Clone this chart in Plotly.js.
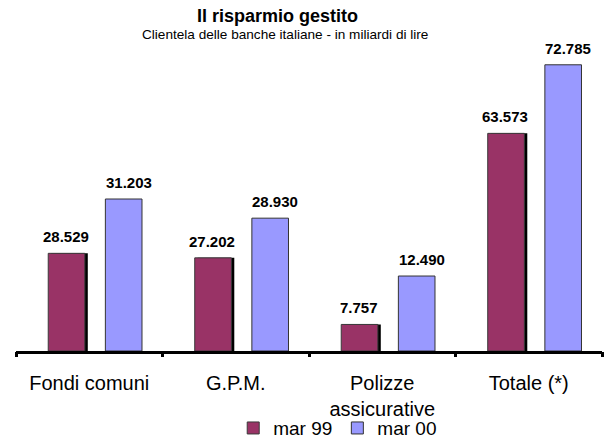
<!DOCTYPE html>
<html>
<head>
<meta charset="utf-8">
<script src="https://cdn.plot.ly/plotly-3.0.1.min.js"></script>
<style>html,body{margin:0;padding:0;background:#fff;}#chart{width:605px;height:444px;}</style>
</head>
<body>
<div id="chart"></div>
<script>
// ---- data (miliardi di lire) ----
const categories = ['Fondi comuni', 'G.P.M.', 'Polizze<br>assicurative', 'Totale (*)'];
const seriesNames = ['mar 99', 'mar 00'];
const mar99 = [28529, 27202, 7757, 63573];
// values printed above the mar 00 bars
const mar00 = [31203, 28930, 12490, 72785];
// heights of the mar 00 bars as drawn in the reference (they do not follow the printed values)
const mar00BarHeight = [44400, 38800, 21900, 83600];

const titleText = 'Il risparmio gestito';
const subtitleText = 'Clientela delle banche italiane - in miliardi di lire';

const FONT = '"Liberation Sans", Arial, sans-serif';
const fmt = v => String(v).replace(/\B(?=(\d{3})+(?!\d))/g, '.');

const xs = categories.map((c, i) => i);
const W = 0.25, OFF99 = -0.28, OFF00 = 0.11, SHADOW = 0.02;

const traces = [
  { // drop shadow of mar 99 bars
    type: 'bar', x: xs, y: mar99, width: W, offset: OFF99 + SHADOW,
    marker: { color: '#000000', line: { width: 0 } },
    showlegend: false, hoverinfo: 'skip'
  },
  {
    type: 'bar', name: seriesNames[0], x: xs, y: mar99, width: W, offset: OFF99,
    marker: { color: '#993366', line: { color: '#3a3a3a', width: 1 } }
  },
  {
    type: 'bar', name: seriesNames[1], x: xs, y: mar00BarHeight, width: W, offset: OFF00,
    marker: { color: '#9999FF', line: { color: '#333333', width: 1 } }
  }
];

const annotations = [];
mar99.forEach((v, i) => annotations.push({
  x: i + OFF99 + W / 2, y: v, xref: 'x', yref: 'y', text: '<b>' + fmt(v) + '</b>',
  showarrow: false, yanchor: 'bottom', yshift: 6, xshift: -1,
  font: { family: FONT, size: 15, color: '#000' }
}));
mar00.forEach((v, i) => annotations.push({
  x: i + OFF00 + W / 2, y: mar00BarHeight[i], xref: 'x', yref: 'y', text: '<b>' + fmt(v) + '</b>',
  showarrow: false, yanchor: 'bottom', yshift: 6, xshift: 5,
  font: { family: FONT, size: 15, color: '#000' }
}));
annotations.push({
  xref: 'paper', yref: 'paper', x: 0.4454, y: 1.152, xanchor: 'center', yanchor: 'middle',
  text: '<b>' + titleText + '</b>', showarrow: false, font: { family: FONT, size: 18, color: '#000' }
});
annotations.push({
  xref: 'paper', yref: 'paper', x: 0.4582, y: 1.086, xanchor: 'center', yanchor: 'middle',
  text: subtitleText, showarrow: false, font: { family: FONT, size: 13.6, color: '#000' }
});

const layout = {
  width: 605, height: 444,
  margin: { l: 16, r: 3, t: 60, b: 93, pad: 0, autoexpand: false },
  paper_bgcolor: '#ffffff', plot_bgcolor: '#ffffff',
  barmode: 'overlay',
  font: { family: FONT, color: '#000' },
  xaxis: {
    type: 'linear', range: [-0.5, 3.5],
    tickmode: 'array', tickvals: xs, ticktext: categories,
    showgrid: false, zeroline: false,
    showline: true, linecolor: '#000', linewidth: 3,
    ticks: '',
    tickfont: { family: FONT, size: 20, color: '#000' },
    ticklabelstandoff: 12
  },
  xaxis2: {
    overlaying: 'x', type: 'linear', range: [-0.5, 3.5],
    tickmode: 'array', tickvals: [-0.5, 0.5, 1.5, 2.5, 3.5],
    ticktext: ['', '', '', '', ''],
    showgrid: false, zeroline: false, showline: false,
    ticks: 'outside', ticklen: 5, tickwidth: 3, tickcolor: '#000', side: 'bottom'
  },
  yaxis: { range: [0, 85000], visible: false, showgrid: false, zeroline: false, fixedrange: true },
  showlegend: true,
  legend: {
    orientation: 'h', x: 0.549, xanchor: 'center', y: -0.265, yanchor: 'middle',
    font: { family: FONT, size: 19, color: '#000' }, itemwidth: 30,
    bgcolor: 'rgba(0,0,0,0)', traceorder: 'normal'
  },
  annotations: annotations
};

// a hidden trace to anchor the boundary-tick axis
traces.push({ type: 'scatter', x: [-0.5], y: [0], xaxis: 'x2', yaxis: 'y', mode: 'markers',
  marker: { opacity: 0 }, showlegend: false, hoverinfo: 'skip' });

Plotly.newPlot('chart', traces, layout, { staticPlot: true, displayModeBar: false });
</script>
</body>
</html>
